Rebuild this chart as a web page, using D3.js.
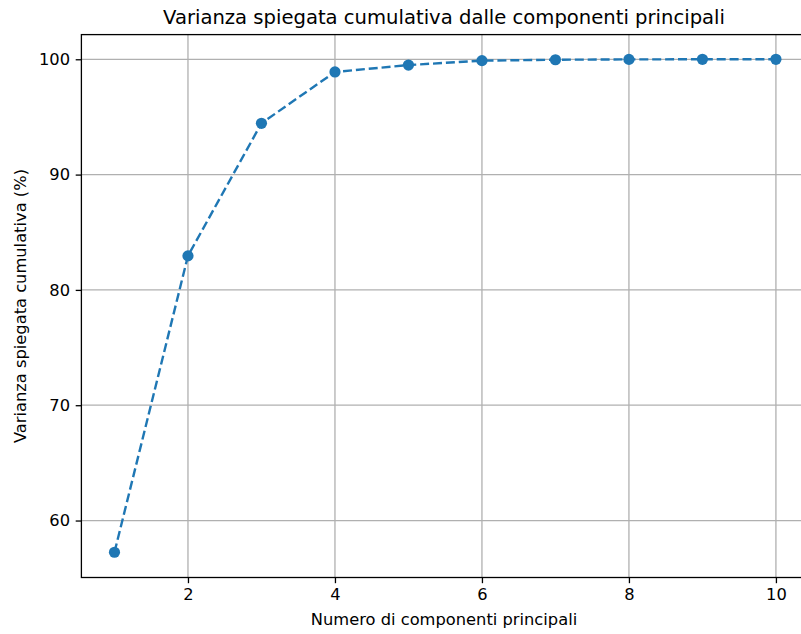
<!doctype html>
<head>
  <style>
    body {
      margin: 0;
      background: #fff;
      font-family: "DejaVu Sans", sans-serif;
    }
    svg text {
      fill: #000;
    }
  </style>
<script src="https://cdnjs.cloudflare.com/ajax/libs/d3/7.8.5/d3.min.js"></script>
</head>
<body>
<script>

var components = [1, 2, 3, 4, 5, 6, 7, 8, 9, 10];
var cumVariance = [57.25, 82.95, 94.45, 98.9, 99.5, 99.88, 99.96, 99.99, 100, 100];
var xTicks = [2, 4, 6, 8, 10];
var yTicks = [60, 70, 80, 90, 100];

var W = 801, H = 634;
var mLeft = 81.4, mRight = 809, mTop = 34.6, mBottom = 577.5;

var svg = d3.select("body").append("svg")
  .attr("width", W)
  .attr("height", H);

var x = d3.scaleLinear().domain([0.55, 10.45]).range([mLeft, mRight]);
var y = d3.scaleLinear().domain([55.06, 102.14]).range([mBottom, mTop]);

// grid
svg.append("g").selectAll("line")
  .data(xTicks).enter()
  .append("line")
    .attr("x1", d => x(d)).attr("x2", d => x(d))
    .attr("y1", mTop).attr("y2", mBottom)
    .attr("stroke", "#b0b0b0")
    .attr("stroke-width", 1.3);
svg.append("g").selectAll("line")
  .data(yTicks).enter()
  .append("line")
    .attr("x1", mLeft).attr("x2", mRight)
    .attr("y1", d => y(d)).attr("y2", d => y(d))
    .attr("stroke", "#b0b0b0")
    .attr("stroke-width", 1.3);

// line + markers
var line = d3.line()
  .x((d, i) => x(components[i]))
  .y(d => y(d));

svg.append("path")
  .datum(cumVariance)
  .attr("d", line)
  .attr("fill", "none")
  .attr("stroke", "#1f77b4")
  .attr("stroke-width", 2.4)
  .attr("stroke-dasharray", "9,3.9");

svg.selectAll(".pt")
  .data(cumVariance).enter()
  .append("circle")
    .attr("class", "pt")
    .attr("cx", (d, i) => x(components[i]))
    .attr("cy", d => y(d))
    .attr("r", 5.6)
    .attr("fill", "#1f77b4");

// axes
var xAxis = d3.axisBottom(x).tickValues(xTicks).tickSize(5.7).tickPadding(5.7);
var yAxis = d3.axisLeft(y).tickValues(yTicks).tickSize(5.7).tickPadding(5.7);

var gx = svg.append("g")
  .attr("transform", "translate(0," + mBottom + ")")
  .call(xAxis);
var gy = svg.append("g")
  .attr("transform", "translate(" + mLeft + ",0)")
  .call(yAxis);

[gx, gy].forEach(function(g) {
  g.select(".domain").remove();
  g.selectAll("line").attr("stroke", "#000").attr("stroke-width", 1.3);
  g.selectAll("text")
    .style("font-family", "DejaVu Sans")
    .style("font-size", "16.3px")
    .attr("fill", "#000");
});

// frame
svg.append("rect")
  .attr("x", mLeft).attr("y", mTop)
  .attr("width", mRight - mLeft).attr("height", mBottom - mTop)
  .attr("fill", "none")
  .attr("stroke", "#000")
  .attr("stroke-width", 1.3);

// labels
svg.append("text")
  .attr("x", 444)
  .attr("y", 24)
  .attr("text-anchor", "middle")
  .style("font-size", "19.6px")
  .text("Varianza spiegata cumulativa dalle componenti principali");

svg.append("text")
  .attr("x", 444)
  .attr("y", 625)
  .attr("text-anchor", "middle")
  .style("font-size", "16.3px")
  .text("Numero di componenti principali");

svg.append("text")
  .attr("transform", "translate(26," + ((mTop + mBottom) / 2) + ") rotate(-90)")
  .attr("text-anchor", "middle")
  .style("font-size", "16.3px")
  .text("Varianza spiegata cumulativa (%)");

</script>
</body>
